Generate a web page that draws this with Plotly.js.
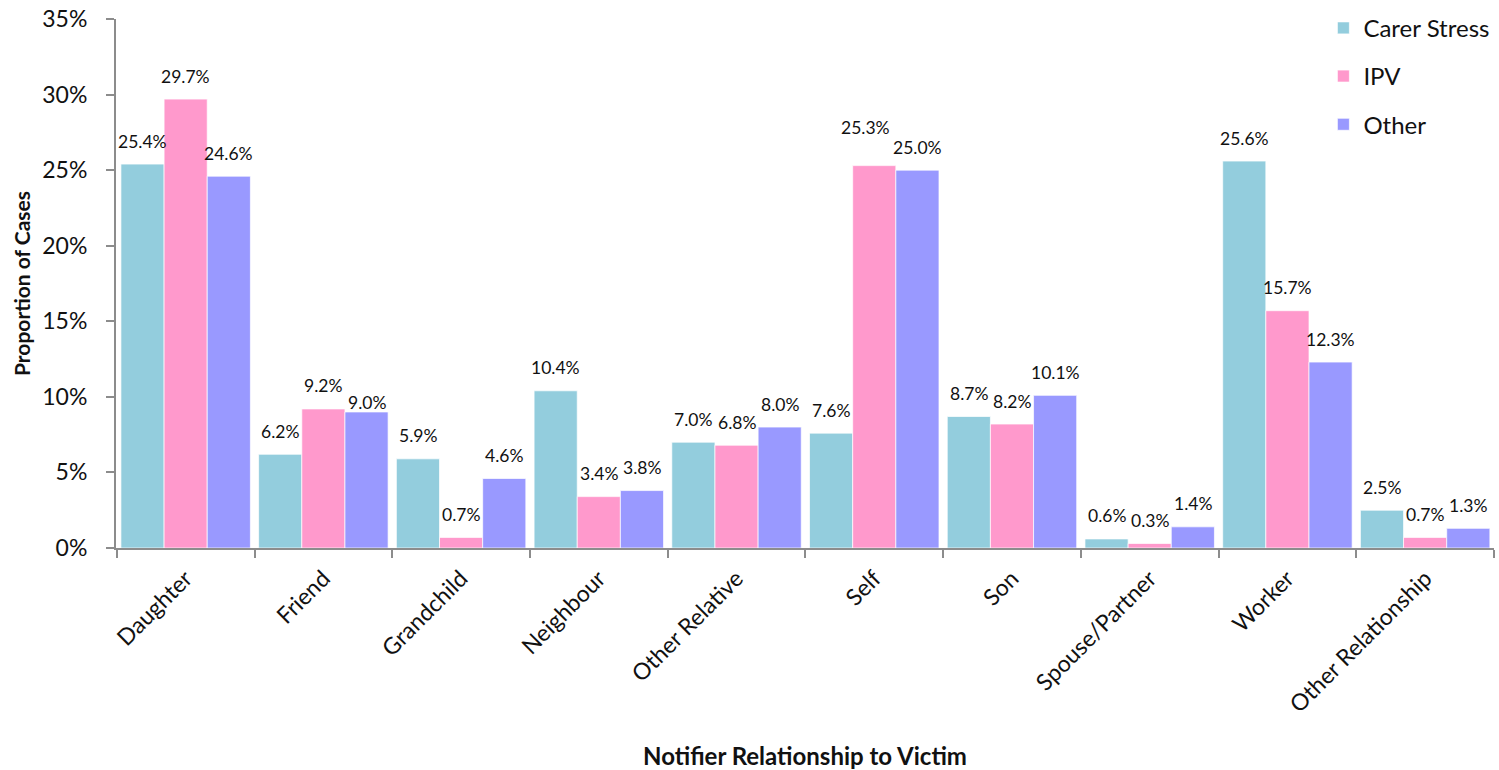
<!DOCTYPE html>
<html>
<head>
<meta charset="utf-8">
<script src="https://cdn.plot.ly/plotly-3.0.1.min.js"></script>
<style>
  html, body { margin: 0; padding: 0; background: #fff; }
  #chart { width: 1499px; height: 770px; }
</style>
</head>
<body>
<div id="chart"></div>
<script>
// Notifier relationship categories
const categories = ['Daughter', 'Friend', 'Grandchild', 'Neighbour', 'Other Relative',
  'Self', 'Son', 'Spouse/Partner', 'Worker', 'Other Relationship'];

// Proportion of cases (%) per abuse type
const carerStress = [25.4, 6.2, 5.9, 10.4, 7.0, 7.6, 8.7, 0.6, 25.6, 2.5];
const ipv         = [29.7, 9.2, 0.7, 3.4, 6.8, 25.3, 8.2, 0.3, 15.7, 0.7];
const other       = [24.6, 9.0, 4.6, 3.8, 8.0, 25.0, 10.1, 1.4, 12.3, 1.3];

const seriesNames = ['Carer Stress', 'IPV', 'Other'];
const seriesValues = [carerStress, ipv, other];
const seriesColors = ['#93CDDD', '#FF99CC', '#9999FF'];

const yTickVals = [0, 5, 10, 15, 20, 25, 30, 35];
const yTickText = ['0%', '5%', '10%', '15%', '20%', '25%', '30%', '35%'];

const FONT = 'Lato, "Open Sans", sans-serif';
const BARGAP = 0.06;

// Label offsets (px): a few labels sit nudged to avoid crowding
const labelNudge = {
  '1,2': { dy: 9 },          // Friend / Other
  '5,1': { dy: 38, dx: -9 }  // Self / IPV
};

const traces = seriesNames.map((name, j) => ({
  type: 'bar',
  name: name,
  legendgroup: name,
  x: categories,
  y: seriesValues[j],
  marker: { color: seriesColors[j], line: { color: 'rgba(255,255,255,0.7)', width: 1 } },
  hoverinfo: 'skip'
}));

// Value labels above each bar, offset within the group by the bar width
const barW = (1 - BARGAP) / seriesNames.length;
const annotations = [];
seriesValues.forEach((vals, j) => {
  vals.forEach((v, i) => {
    const n = labelNudge[i + ',' + j] || {};
    annotations.push({
      x: i + (j - (seriesNames.length - 1) / 2) * barW,
      y: v,
      xref: 'x', yref: 'y',
      text: v.toFixed(1) + '%',
      showarrow: false,
      xanchor: 'center', yanchor: 'middle',
      yshift: n.dy !== undefined ? n.dy : 23,
      xshift: n.dx || 0,
      font: { family: FONT, size: 17.5, color: '#111' }
    });
  });
});

const layout = {
  width: 1499,
  height: 770,
  margin: { l: 116, r: 5, t: 19, b: 222, autoexpand: false },
  paper_bgcolor: '#fff',
  plot_bgcolor: '#fff',
  barmode: 'group',
  bargap: BARGAP,
  bargroupgap: 0,
  showlegend: true,
  legend: {
    x: 1.001, xanchor: 'right', xref: 'paper',
    y: 1.025, yanchor: 'top',
    font: { family: FONT, size: 24, color: '#111' },
    tracegroupgap: 14,
    itemwidth: 30,
    bgcolor: 'rgba(0,0,0,0)'
  },
  xaxis: {
    type: 'category',
    tickangle: -45,
    ticks: 'outside',
    tickson: 'boundaries',
    ticklen: 8,
    tickwidth: 2,
    tickcolor: '#8c8c8c',
    ticklabelstandoff: 6,
    showline: true,
    linecolor: '#8c8c8c',
    linewidth: 2,
    showgrid: false,
    tickfont: { family: FONT, size: 23, color: '#111' },
    automargin: false,
    title: {
      text: 'Notifier Relationship to Victim',
      font: { family: FONT, size: 24, color: '#111', weight: 'bold' },
      standoff: 32
    }
  },
  yaxis: {
    range: [0, 35],
    tickvals: yTickVals,
    ticktext: yTickText,
    ticks: 'outside',
    ticklen: 8,
    tickwidth: 2,
    tickcolor: '#8c8c8c',
    ticklabelstandoff: 14,
    showline: true,
    linecolor: '#8c8c8c',
    linewidth: 2,
    showgrid: false,
    zeroline: false,
    tickfont: { family: FONT, size: 23, color: '#111' },
    automargin: false,
    title: {
      text: 'Proportion of Cases',
      font: { family: FONT, size: 21, color: '#111', weight: 'bold' },
      standoff: 6
    }
  },
  annotations: annotations
};

Plotly.newPlot('chart', traces, layout, { displayModeBar: false, staticPlot: true });
</script>
</body>
</html>
